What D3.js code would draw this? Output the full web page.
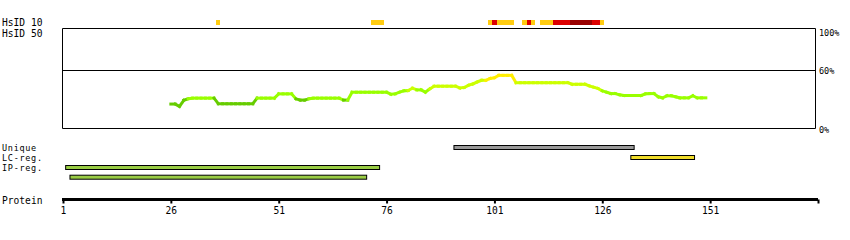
<!DOCTYPE html>
<html>
<head>
<meta charset="utf-8">
<script src="https://cdn.jsdelivr.net/npm/d3@7"></script>
<style>
  html, body { margin: 0; padding: 0; background: #fff; }
  svg { display: block; }
  text { font-family: "DejaVu Sans Mono", monospace; fill: #000; }
</style>
</head>
<body>
<svg id="chart" width="850" height="240"></svg>
<script>
// ---------- data ----------
const proteinEnd = 176;
const axisTicks = [1, 26, 51, 76, 101, 126, 151];
const trackLabels = ["HsID 10", "HsID 50", "Unique", "LC-reg.", "IP-reg.", "Protein"];
const percentLabels = [100, 60, 0];

// HsID 10 identity hits (residue ranges, level: 0 = low, 1 = mid, 2 = high)
const hsidStart = [37, 73, 100, 101, 102, 108, 109, 110, 112, 115, 119, 124, 126];
const hsidEnd   = [37, 75, 100, 101, 105, 108, 109, 110, 114, 118, 123, 125, 126];
const hsidLevel = [0, 0, 0, 1, 0, 0, 1, 0, 0, 1, 2, 1, 0];

// conservation profile (% identity) for residues 26..150
const profileStart = 26;
const profileValues = [
  25.2, 25.2, 22.8, 29.1, 30.6,
  31.3, 31.3, 31.3, 31.3, 31.3, 31.3,
  25.5, 25.5, 25.5, 25.5, 25.5, 25.5, 25.5, 25.5, 25.5,
  31.3, 31.3, 31.3, 31.3, 31.3,
  35.7, 35.7, 35.7, 35.7,
  30.6, 29.3, 29.3, 30.6,
  31.3, 31.3, 31.3, 31.3, 31.3, 31.3, 31.3,
  29.3, 29.3,
  37.4, 37.4, 37.4, 37.4, 37.4, 37.4, 37.4, 37.4, 37.4,
  35.4, 35.7, 37.4, 38.8, 39.1, 41.5, 39.8, 39.8, 37.4, 40.8,
  43.6, 43.6, 43.6, 43.6, 43.6, 43.6,
  41.8, 42.3, 44.6, 45.9, 48.0, 49.7, 49.7, 51.5, 52.3,
  54.8, 54.8, 54.8, 54.8,
  47.2, 47.2, 47.2, 47.2, 47.2, 47.2, 47.2, 47.2, 47.2, 47.2, 47.2, 47.2, 47.2,
  45.6, 45.6, 45.6, 45.6,
  43.9, 42.6, 41.3, 38.8, 37.4, 36.0, 36.0, 34.7,
  34.0, 34.0, 34.0, 34.0, 34.0,
  35.7, 36.0, 36.0, 32.7, 31.6, 33.7, 33.7, 32.7,
  31.6, 31.6, 31.6, 33.7, 31.6, 31.6, 31.6
];

// lower feature tracks
const uniqueStart = [92],  uniqueEnd = [133];
const lcStart = [133],     lcEnd = [147];
const ipStart = [2, 3],    ipEnd = [74, 71];

// ---------- drawing ----------
const svg = d3.select("#chart");
const x = d3.scaleLinear().domain([1, proteinEnd]).range([63, 818]);
const y = d3.scaleLinear().domain([0, 100]).range([128.5, 31.5]);

const hsidColor = d3.scaleOrdinal().domain([0, 1, 2]).range(["#ffcc11", "#dd0000", "#990000"]);
const lineColor = d3.scaleThreshold().domain([30, 40, 50]).range(["#66cc00", "#99ff00", "#ccff00", "#ffee00"]);

// left labels
const labelY = [26, 36.5, 150.5, 160.5, 170.5, 203.5];
const labelSize = [9.6, 9.6, 8.5, 8.5, 8.5, 9.6];
svg.selectAll("text.tl").data(trackLabels).join("text")
  .attr("class", "tl")
  .attr("x", 2)
  .attr("y", (d, i) => labelY[i])
  .style("font-size", (d, i) => labelSize[i] + "px")
  .style("letter-spacing", (d, i) => labelSize[i] < 9 ? "0.7px" : "0px")
  .text(d => d);

// HsID 10 track
svg.append("g").selectAll("rect").data(hsidStart).join("rect")
  .attr("x", (d) => x(d - 0.5))
  .attr("width", (d, i) => x(hsidEnd[i] + 0.5) - x(d - 0.5))
  .attr("y", 20)
  .attr("height", 5)
  .attr("fill", (d, i) => hsidColor(hsidLevel[i]))
  .attr("shape-rendering", "crispEdges");

// profile frame
const frame = svg.append("g").attr("stroke", "#000").attr("stroke-width", 1).attr("fill", "none");
frame.append("path").attr("d", "M62.5,128.5V28.5H815.5V128.5H62.5");
const y60 = Math.round(y(60)) + 0.5;
frame.append("line").attr("x1", 62.5).attr("x2", 815.5).attr("y1", y60).attr("y2", y60);

// percent labels
svg.selectAll("text.pl").data(percentLabels).join("text")
  .attr("class", "pl")
  .attr("x", 819)
  .attr("y", d => y(d) + 4)
  .style("font-size", "8.5px")
  .text(d => d + "%");

// profile line (coloured segments)
const pts = profileValues.map((v, i) => ({ p: profileStart + i, v }));
const segs = d3.pairs(pts);
svg.append("g").selectAll("line").data(segs).join("line")
  .attr("x1", d => x(d[0].p)).attr("y1", d => y(d[0].v))
  .attr("x2", d => x(d[1].p)).attr("y2", d => y(d[1].v))
  .attr("stroke", d => lineColor((d[0].v + d[1].v) / 2))
  .attr("stroke-width", 3)
  .attr("stroke-linecap", "square");

// feature bars
function bars(starts, ends, yTop, color) {
  svg.append("g").selectAll("rect").data(starts).join("rect")
    .attr("x", d => x(d - 0.5) + 0.5)
    .attr("width", (d, i) => x(ends[i] + 0.5) - x(d - 0.5) - 1)
    .attr("y", (d, i) => yTop[i] + 0.5)
    .attr("height", 4)
    .attr("fill", color)
    .attr("stroke", "#000")
    .attr("stroke-width", 1);
}
bars(uniqueStart, uniqueEnd, [145], "#999999");
bars(lcStart, lcEnd, [155], "#f0dc2a");
bars(ipStart, ipEnd, [165, 174.7], "#99cc44");

// protein axis
const axisG = svg.append("g").attr("transform", "translate(0,199.5)");
axisG.append("line")
  .attr("x1", x(1) - 1).attr("x2", x(proteinEnd))
  .attr("stroke", "#000").attr("stroke-width", 3);
const axis = d3.axisBottom(x)
  .tickValues(axisTicks.concat([proteinEnd]))
  .tickFormat(d => d === proteinEnd ? "" : d)
  .tickSize(4)
  .tickSizeOuter(0)
  .tickPadding(4);
const ag = axisG.append("g").call(axis);
ag.select(".domain").remove();
ag.selectAll(".tick line").attr("stroke", "#000").attr("stroke-width", 2);
ag.selectAll(".tick text")
  .attr("fill", "#000")
  .style("font-family", "DejaVu Sans Mono, monospace")
  .style("font-size", "9.6px");
</script>
</body>
</html>
